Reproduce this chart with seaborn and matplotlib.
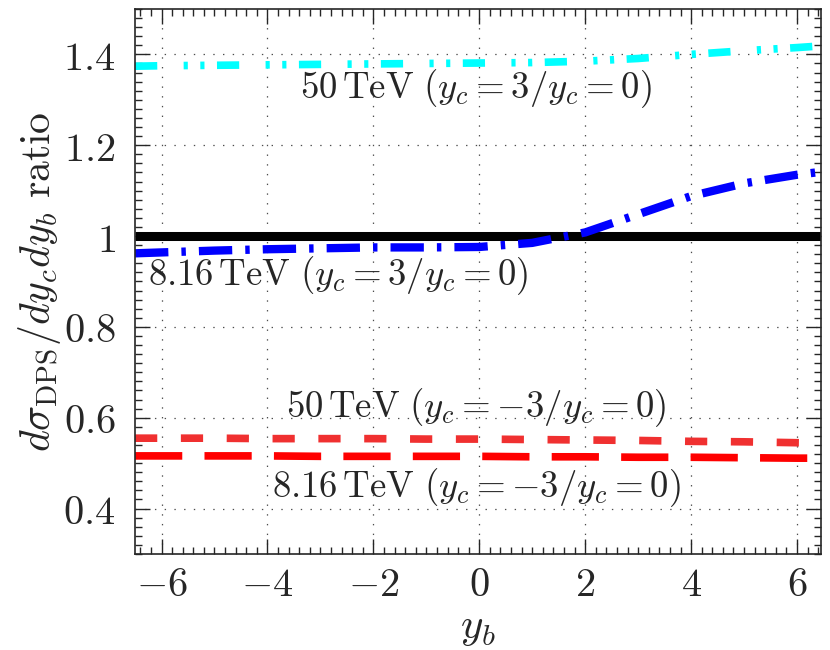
import numpy as np
import pandas as pd
import seaborn as sns
import matplotlib.pyplot as plt
from matplotlib.ticker import MultipleLocator

# rapidity grid and ratio curves
yb = [-6.5, -6, -5, -4, -3, -2, -1, 0, 1, 2, 3, 4, 5, 6, 6.5]
ratio_50_fwd = [1.374, 1.375, 1.376, 1.377, 1.378, 1.379, 1.380, 1.381, 1.382,
                1.385, 1.391, 1.400, 1.408, 1.415, 1.419]
ratio_816_fwd = [0.962, 0.964, 0.968, 0.971, 0.973, 0.975, 0.975, 0.976, 0.985,
                 1.008, 1.048, 1.088, 1.116, 1.135, 1.142]
ratio_50_bwd = [0.555, 0.555, 0.555, 0.554, 0.554, 0.554, 0.553, 0.553, 0.552,
                0.551, 0.550, 0.548, 0.547, 0.545, 0.544]
ratio_816_bwd = [0.516, 0.516, 0.516, 0.516, 0.515, 0.515, 0.515, 0.515, 0.514,
                 0.514, 0.513, 0.513, 0.512, 0.511, 0.511]

xticks = [-6, -4, -2, 0, 2, 4, 6]
xticklabels = [r'$-6$', r'$-4$', r'$-2$', r'$0$', r'$2$', r'$4$', r'$6$']
yticks = [0.4, 0.6, 0.8, 1.0, 1.2, 1.4]
yticklabels = [r'$0.4$', r'$0.6$', r'$0.8$', r'$1$', r'$1.2$', r'$1.4$']

df = pd.DataFrame({'yb': yb, 'r50f': ratio_50_fwd, 'r816f': ratio_816_fwd,
                   'r50b': ratio_50_bwd, 'r816b': ratio_816_bwd})
df['one'] = 1.0

sns.set_style('ticks')
plt.rcParams['mathtext.fontset'] = 'cm'
plt.rcParams['lines.scale_dashes'] = False
plt.rcParams['lines.solid_capstyle'] = 'butt'
plt.rcParams['lines.dash_capstyle'] = 'butt'

fig = plt.figure(figsize=(8.3, 6.5), dpi=100)
ax = fig.add_axes([0.1627, 0.1477, 0.8263, 0.8385])

sns.lineplot(data=df, x='yb', y='one', ax=ax, color='black', lw=6.5)
sns.lineplot(data=df, x='yb', y='r50f', ax=ax, color='#00ffff', lw=5.5,
             ls=(0, (16, 19, 3, 9, 3, 9)))
sns.lineplot(data=df, x='yb', y='r816f', ax=ax, color='#0000ff', lw=6,
             ls=(0, (24, 9.4, 3.2, 9.4)))
sns.lineplot(data=df, x='yb', y='r50b', ax=ax, color='#f03030', lw=5.5,
             ls=(0, (16, 17)))
sns.lineplot(data=df, x='yb', y='r816b', ax=ax, color='#ff0000', lw=5.5,
             ls=(0, (34, 16)))

ax.set_xlim(-6.5, 6.45)
ax.set_ylim(0.3, 1.5)
ax.set_xticks(xticks)
ax.set_xticklabels(xticklabels)
ax.set_yticks(yticks)
ax.set_yticklabels(yticklabels)
ax.xaxis.set_minor_locator(MultipleLocator(0.2))
ax.yaxis.set_minor_locator(MultipleLocator(0.02))
ax.tick_params(which='both', direction='in', top=True, right=True, width=1)
ax.tick_params(which='major', length=11, labelsize=29, pad=8)
ax.tick_params(which='minor', length=5)
ax.tick_params(axis='y', pad=14)
for s in ax.spines.values():
    s.set_linewidth(1.2)
ax.grid(True, which='major', color='0.3', ls=(0, (1, 6)), lw=0.9)

ax.set_xlabel(r'$y_b$', fontsize=31, labelpad=1)
ax.set_ylabel(r'$d\sigma_{\mathrm{DPS}}/dy_cdy_b\ \mathrm{ratio}$', fontsize=30, labelpad=0)

ax.text(-0.06, 1.325, r'$50\,\mathrm{TeV}\ (y_c=3/y_c=0)$', fontsize=26.5,
        ha='center', va='center')
ax.text(-2.66, 0.914, r'$8.16\,\mathrm{TeV}\ (y_c=3/y_c=0)$', fontsize=26.5,
        ha='center', va='center')
ax.text(-0.06, 0.622, r'$50\,\mathrm{TeV}\ (y_c=-3/y_c=0)$', fontsize=26.5,
        ha='center', va='center')
ax.text(-0.06, 0.446, r'$8.16\,\mathrm{TeV}\ (y_c=-3/y_c=0)$', fontsize=26.5,
        ha='center', va='center')

fig.savefig('out.png', dpi=100)
